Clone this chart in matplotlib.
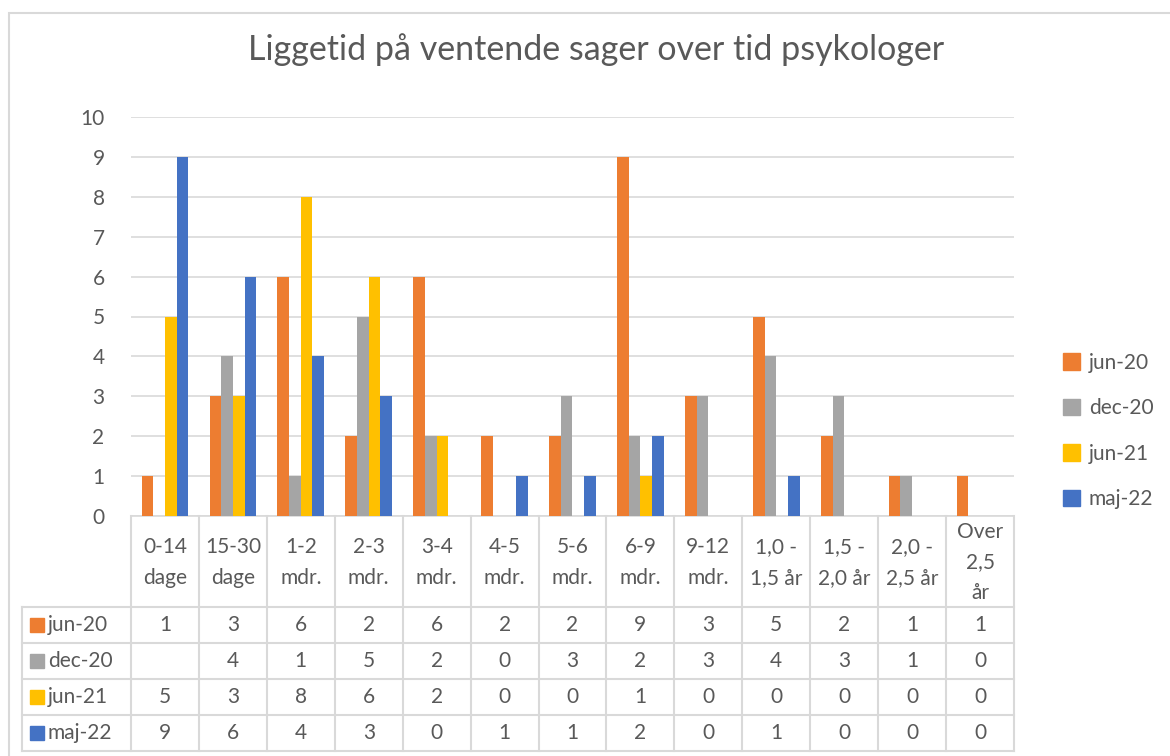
import numpy as np
import matplotlib
matplotlib.use("Agg")
import matplotlib.pyplot as plt
from matplotlib.patches import Rectangle

plt.rcParams['font.family'] = ['Lato', 'DejaVu Sans']

title = "Liggetid på ventende sager over tid psykologer"
categories = ["0-14\ndage", "15-30\ndage", "1-2\nmdr.", "2-3\nmdr.", "3-4\nmdr.", "4-5\nmdr.",
              "5-6\nmdr.", "6-9\nmdr.", "9-12\nmdr.", "1,0 -\n1,5 år", "1,5 -\n2,0 år",
              "2,0 -\n2,5 år", "Over\n2,5\når"]
series_names = ["jun-20", "dec-20", "jun-21", "maj-22"]
jun20 = [1, 3, 6, 2, 6, 2, 2, 9, 3, 5, 2, 1, 1]
dec20 = [np.nan, 4, 1, 5, 2, 0, 3, 2, 3, 4, 3, 1, 0]
jun21 = [5, 3, 8, 6, 2, 0, 0, 1, 0, 0, 0, 0, 0]
maj22 = [9, 6, 4, 3, 0, 1, 1, 2, 0, 1, 0, 0, 0]
series = [jun20, dec20, jun21, maj22]
colors = ["#ED7D31", "#A5A5A5", "#FFC000", "#4472C4"]

W, H = 1170, 756
fig = plt.figure(figsize=(W / 100, H / 100), dpi=100)
txt = "#595959"
grid = "#D9D9D9"
fs = 15

def fx(px):
    return px / W

def fy(py):
    return 1 - py / H

# chart border (right and bottom edges fall outside the picture)
fig.patches.append(Rectangle((fx(9), fy(770)), fx(1190) - fx(9), fy(13) - fy(770),
                             transform=fig.transFigure, fill=False, edgecolor=grid, lw=1.5))

left_px, right_px, top_px, zero_px = 131, 1014, 117, 516
ax = fig.add_axes([fx(left_px), fy(zero_px), fx(right_px) - fx(left_px), fy(top_px) - fy(zero_px)])
n = len(categories)
x = np.arange(n)
bw = 0.172
for i, (s, c) in enumerate(zip(series, colors)):
    ax.bar(x + (i - 1.5) * bw, s, width=bw, color=c, label=series_names[i], zorder=3)
ax.set_xlim(-0.5, n - 0.5)
ax.set_ylim(0, 10)
ax.set_yticks(range(0, 11))
ax.tick_params(axis='y', length=0, labelsize=fs, labelcolor=txt, pad=19)
ax.set_xticks([])
ax.yaxis.grid(True, color=grid, lw=1.2, zorder=0)
for sp in ["top", "right", "left"]:
    ax.spines[sp].set_visible(False)
ax.spines["bottom"].set_color(grid)
ax.spines["bottom"].set_linewidth(1.2)
ax.set_facecolor("none")

fig.text(fx(596), fy(50), title, ha="center", va="center", fontsize=24.5,
         color=txt, fontweight="normal")

# table
bot_px = 751
axt = fig.add_axes([fx(left_px), fy(bot_px), fx(right_px) - fx(left_px), fy(zero_px) - fy(bot_px)])
axt.set_xlim(-0.5, n - 0.5)
axt.set_ylim(bot_px, zero_px)
axt.axis("off")
header_bottom = 607
row_h = 36
lab_left = -0.5 - (left_px - 22) / ((right_px - left_px) / n)
lkw = dict(color=grid, lw=1.5, clip_on=False)
for k in range(n + 1):
    axt.plot([k - 0.5, k - 0.5], [zero_px, bot_px], **lkw)
axt.plot([lab_left, lab_left], [header_bottom, bot_px], **lkw)
for r in range(len(series) + 1):
    yy = header_bottom + r * row_h
    axt.plot([lab_left, n - 0.5], [yy, yy], **lkw)
for k, cat in enumerate(categories):
    axt.text(k, (zero_px + header_bottom) / 2 + 1, cat, ha="center", va="center",
             fontsize=fs, color=txt, linespacing=1.65)
for r, (s, c, name) in enumerate(zip(series, colors, series_names)):
    yc = header_bottom + r * row_h + row_h / 2
    axt.add_patch(Rectangle((lab_left + 0.12, yc - 7), 0.21, 14, color=c, clip_on=False))
    axt.text(lab_left + 0.38, yc, name, ha="left", va="center", fontsize=fs, color=txt)
    for k, v in enumerate(s):
        label = "" if np.isnan(v) else str(int(v))
        axt.text(k, yc, label, ha="center", va="center", fontsize=fs, color=txt)

# legend
handles = [Rectangle((0, 0), 1, 1, color=c) for c in colors]
fig.legend(handles, series_names, loc="center left", bbox_to_anchor=(fx(1044), fy(431)),
           frameon=False, fontsize=fs, labelcolor=txt, handlelength=0.85, handleheight=0.85,
           handletextpad=0.4, labelspacing=1.22)

fig.savefig("out.png", dpi=100, facecolor="white")
